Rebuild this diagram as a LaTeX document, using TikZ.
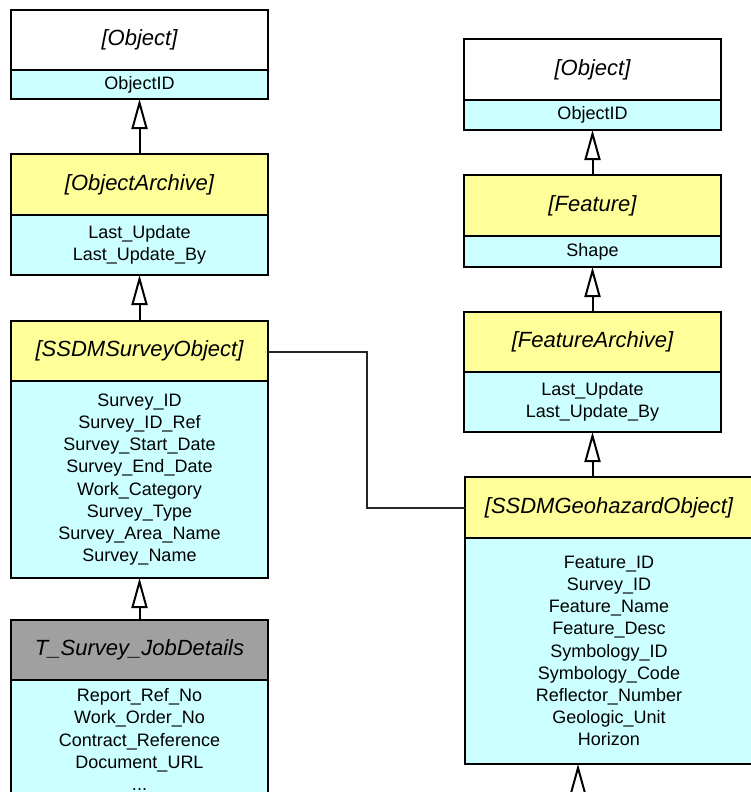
\documentclass[tikz,border=0pt]{standalone}
\usepackage{fontspec}
\setmainfont{Liberation Sans}
\usetikzlibrary{arrows.meta}
\definecolor{hdryellow}{RGB}{255,255,153}
\definecolor{attrcyan}{RGB}{204,255,255}
\definecolor{hdrgray}{RGB}{160,160,160}
\tikzset{
  box/.style={draw=black, line width=2.6bp, inner sep=0pt, outer sep=0pt, anchor=north, align=center},
  hdr/.style={box, font=\fontsize{22bp}{26bp}\selectfont\itshape},
  attr/.style={box, fill=attrcyan, font=\fontsize{18bp}{22.2bp}\selectfont},
  inh/.style={draw=black, line width=2bp, -{Triangle[open, fill=white, length=30bp, width=16bp, line width=2bp]}},
  link/.style={draw=black!85, line width=2bp}
}
\begin{document}
\begin{tikzpicture}[x=1bp,y=-1bp]
\useasboundingbox (0,0) rectangle (751,792);
\clip (0,0) rectangle (751,792);
% left column
\node[hdr, fill=white, minimum width=257bp, minimum height=60bp] (o1h) at (139.5,10) {[Object]};
\node[attr, minimum width=257bp, minimum height=29bp] (o1a) at (o1h.south) {ObjectID};
\node[hdr, fill=hdryellow, minimum width=257bp, minimum height=61bp] (oah) at (139.5,154) {[ObjectArchive]};
\node[attr, minimum width=257bp, minimum height=60bp] (oaa) at (oah.south) {Last\_Update\\Last\_Update\_By};
\node[hdr, fill=hdryellow, minimum width=257bp, minimum height=60bp] (ssh) at (139.5,321) {[SSDMSurveyObject]};
\node[attr, minimum width=257bp, minimum height=197bp] (ssa) at (ssh.south) {Survey\_ID\\Survey\_ID\_Ref\\Survey\_Start\_Date\\Survey\_End\_Date\\Work\_Category\\Survey\_Type\\Survey\_Area\_Name\\Survey\_Name};
\node[hdr, fill=hdrgray, minimum width=257bp, minimum height=60bp] (tjh) at (139.5,620) {T\_Survey\_JobDetails};
\node[attr, minimum width=257bp, minimum height=119bp] (tja) at (tjh.south) {Report\_Ref\_No\\Work\_Order\_No\\Contract\_Reference\\Document\_URL\\...};
% right column
\node[hdr, fill=white, minimum width=257bp, minimum height=61bp] (o2h) at (592.5,39) {[Object]};
\node[attr, minimum width=257bp, minimum height=30bp] (o2a) at (o2h.south) {ObjectID};
\node[hdr, fill=hdryellow, minimum width=257bp, minimum height=61bp] (fth) at (592.5,175) {[Feature]};
\node[attr, minimum width=257bp, minimum height=31bp] (fta) at (fth.south) {Shape};
\node[hdr, fill=hdryellow, minimum width=257bp, minimum height=60bp] (fah) at (592.5,312) {[FeatureArchive]};
\node[attr, minimum width=257bp, minimum height=60bp] (faa) at (fah.south) {Last\_Update\\Last\_Update\_By};
\node[hdr, fill=hdryellow, minimum width=288bp, minimum height=61bp] (gah) at (609,477) {[SSDMGeohazardObject]};
\node[attr, minimum width=288bp, minimum height=226bp] (gaa) at (gah.south) {Feature\_ID\\Survey\_ID\\Feature\_Name\\Feature\_Desc\\Symbology\_ID\\Symbology\_Code\\Reflector\_Number\\Geologic\_Unit\\Horizon};
% inheritance arrows
\draw[inh] (oah.north) -- (o1a.south);
\draw[inh] (ssh.north) -- (oaa.south);
\draw[inh] (tjh.north) -- (ssa.south);
\draw[inh] (fth.north -| o2a.south) -- (o2a.south);
\draw[inh] (fah.north) -- (fta.south);
\draw[inh] (gah.north -| faa.south) -- (faa.south);
\coordinate (gfree) at (578,830);
\draw[inh] (gfree) -- (gfree |- gaa.south);
% association
\draw[link] (ssh.east |- 0,352) -| (367,508) -- (gah.west |- 0,508);
\end{tikzpicture}
\end{document}
